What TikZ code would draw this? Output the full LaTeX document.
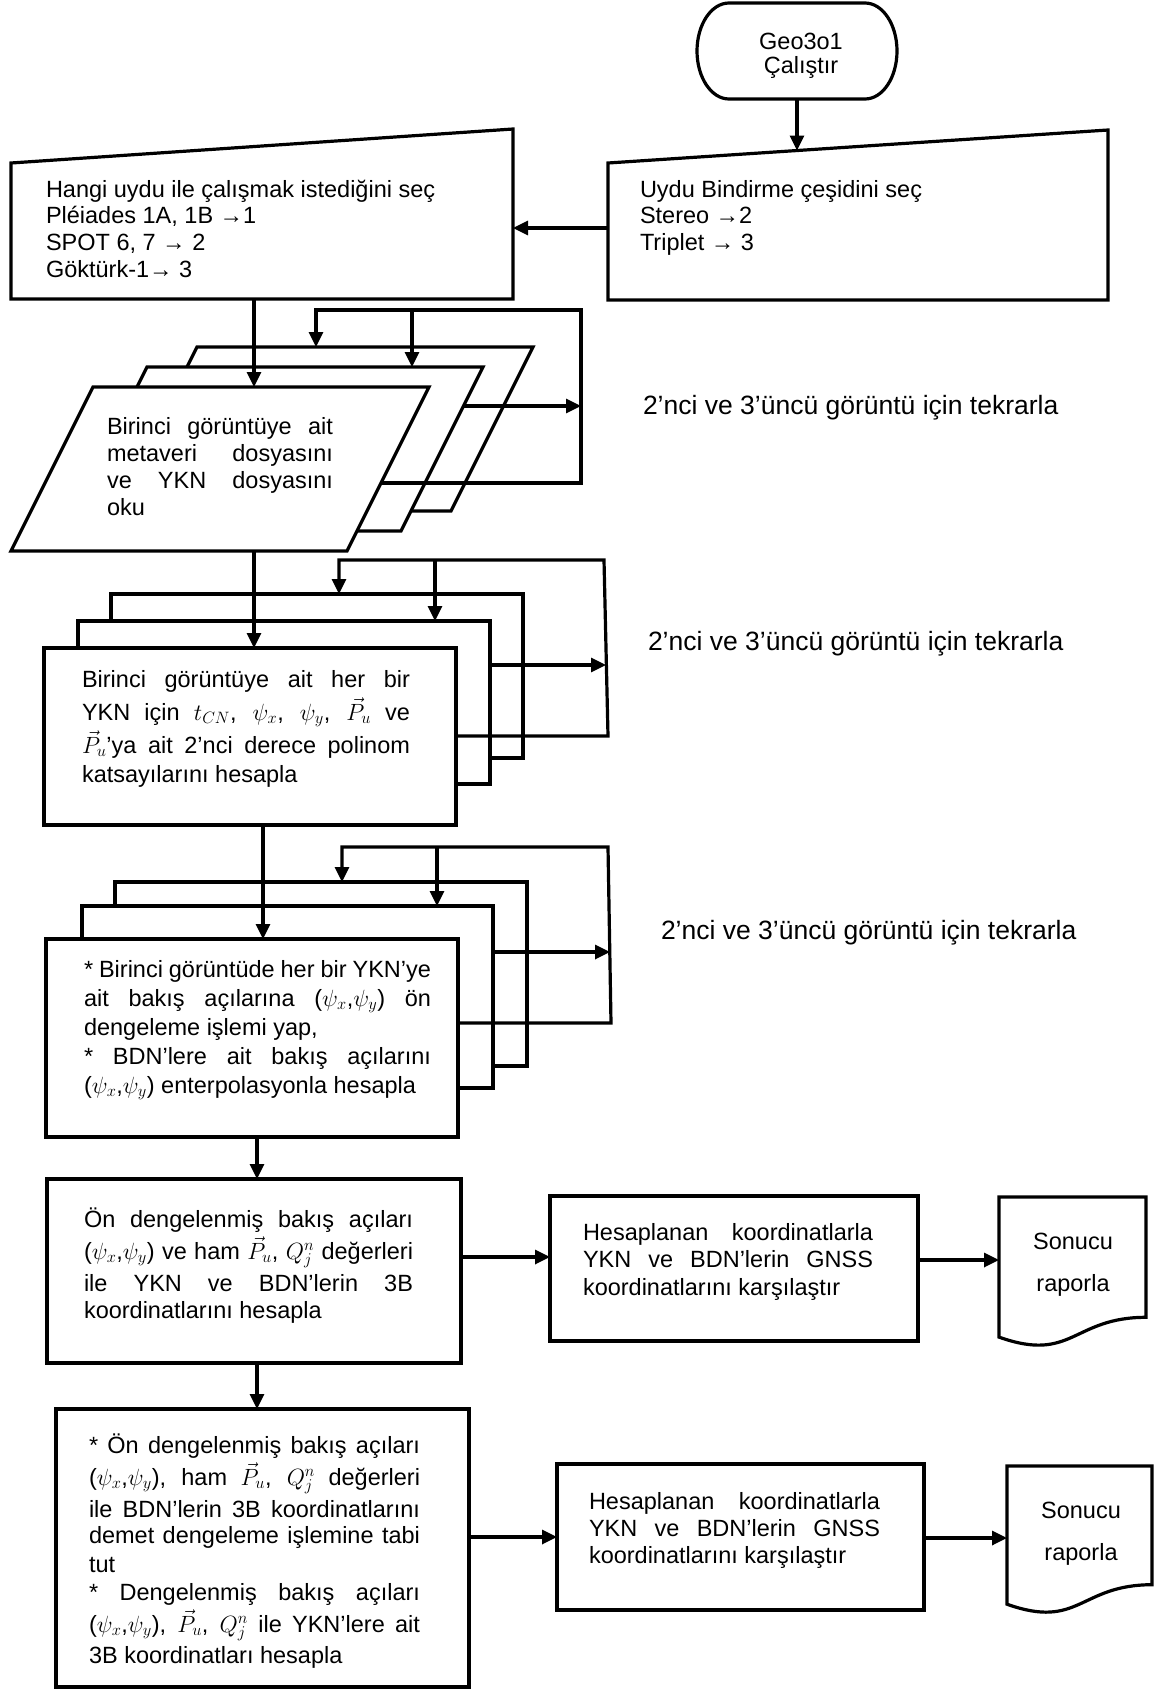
\documentclass[tikz,border=0pt]{standalone}
\usepackage{fix-cm}
\usepackage{fontspec}
\setmainfont{Liberation Sans}
\usetikzlibrary{arrows.meta}
\newlength\Wd
\newcommand\TB[3]{\parbox[t]{#1}{\setlength{\Wd}{#1}\fontsize{23.5pt}{#2}\selectfont\lineskiplimit=-100pt\relax #3}}
\newcommand\J[1]{\makebox[\Wd][s]{#1}}
\newcommand\lbl{\fontsize{26.5pt}{30pt}\selectfont}
\tikzset{
  shp/.style={draw, line width=3.2pt, fill=white, line join=miter},
  arr/.style={line width=3.2pt, -{Triangle[length=15pt,width=14pt]}},
  txt/.style={anchor=base west, inner sep=0pt, outer sep=0pt},
  ctxt/.style={anchor=base, inner sep=0pt, outer sep=0pt},
  box/.style={shp, rectangle, inner sep=0pt, outer sep=0pt, anchor=north west},
}
\begin{document}
\begin{tikzpicture}[x=1pt,y=-1pt]
\fill[white] (0,0) rectangle (1159,1690);
\useasboundingbox (0,0) rectangle (1159,1690);

% ---------- terminal ----------
\draw[shp] (729,3) -- (865,3) arc[start angle=-90,end angle=90,x radius=32,y radius=48]
  -- (729,99) arc[start angle=90,end angle=270,x radius=32,y radius=48] -- cycle;
\node[inner sep=0pt, outer sep=0pt, minimum width=200pt, minimum height=96pt] (term) at (797,51) {};
\node[ctxt] (termt) at (801,49) {\parbox[t]{150pt}{\centering\fontsize{23.5pt}{24pt}\selectfont Geo3o1\\Çalıştır}};

% ---------- manual inputs ----------
\draw[shp] (11,163) -- (513,129) -- (513,299) -- (11,299) -- cycle;
\draw[shp] (608,163) -- (1108,130) -- (1108,300) -- (608,300) -- cycle;
\node[txt] (tL) at (46,197) {\TB{450pt}{26.7pt}{Hangi uydu ile çalışmak istediğini seç\\Pléiades 1A, 1B →1\\SPOT 6, 7 → 2\\Göktürk-1→ 3}};
\node[txt] (tR) at (640,197) {\TB{440pt}{26.7pt}{Uydu Bindirme çeşidini seç\\Stereo →2\\Triplet → 3}};

\coordinate (inRtop) at (797,150.5);
\coordinate (inRw) at (608,228);
\coordinate (inLe) at (513,228);
\coordinate (inLs) at (254,299);
\draw[arr] (term.south) -- (inRtop);
\draw[arr] (inRw) -- (inLe);

% ---------- parallelogram stack ----------
\draw[shp] (197,347) -- (533,347) -- (451,511) -- (115,511) -- cycle;
\draw[shp] (147,367) -- (483,367) -- (401,531) -- (65,531) -- cycle;
\draw[shp] (93,387) -- (429,387) -- (347,551) -- (11,551) -- cycle;
\node[txt] (tP) at (107,434) {\TB{226pt}{27.3pt}{\J{Birinci görüntüye ait}\\\J{metaveri dosyasını}\\\J{ve YKN dosyasını}\\oku}};

\coordinate (p1n) at (254,387);
\coordinate (p1s) at (254,551);
\coordinate (p1e) at (381,483);
\coordinate (p2n) at (412,367);
\coordinate (p2e) at (463,406);
\coordinate (p3n) at (316,347);
\coordinate (lp1a) at (581,483);
\coordinate (lp1b) at (581,310);
\coordinate (lp1c) at (316,310);
\coordinate (lp1d) at (412,310);
\coordinate (lp1e) at (581,406);
\draw[arr] (inLs) -- (p1n);
\draw[arr] (p1e) -- (lp1a) -- (lp1b) -- (lp1c) -- (p3n);
\draw[arr] (lp1d) -- (p2n);
\draw[arr] (p2e) -- (lp1e);
\node[txt] (lab1) at (643,414) {\lbl 2’nci ve 3’üncü görüntü için tekrarla};

% ---------- rectangle stack 2 ----------
\node[box, minimum width=412pt, minimum height=164pt] (r3) at (111,594) {};
\node[box, minimum width=412pt, minimum height=163pt] (r2) at (78,621) {};
\node[box, minimum width=412pt, minimum height=177pt] (r1) at (44,648) {};
\node[txt] (tr1) at (82,687) {\TB{328pt}{29pt}{\J{Birinci görüntüye ait her bir}\\[4pt]\J{YKN için $t_{CN}$, $\psi_x$, $\psi_y$, $\vec{P}_u$ ve}\\[4pt]\J{$\vec{P}_u$’ya ait 2’nci derece polinom}\\katsayılarını hesapla}};

\coordinate (r1n) at (254,648);
\coordinate (r1e) at (456,736);
\coordinate (r2n) at (435,621);
\coordinate (r2e) at (490,665);
\coordinate (r3n) at (339,594);
\coordinate (lp2a) at (608,736);
\coordinate (lp2b) at (604,560);
\coordinate (lp2c) at (339,560);
\coordinate (lp2d) at (435,560);
\coordinate (lp2e) at (606,665);
\draw[arr] (p1s) -- (r1n);
\draw[arr] (r1e) -- (lp2a) -- (lp2b) -- (lp2c) -- (r3n);
\draw[arr] (lp2d) -- (r2n);
\draw[arr] (r2e) -- (lp2e);
\node[txt] (lab2) at (648,650) {\lbl 2’nci ve 3’üncü görüntü için tekrarla};

% ---------- rectangle stack 3 ----------
\node[box, minimum width=412pt, minimum height=184pt] (s3) at (115,882) {};
\node[box, minimum width=411pt, minimum height=182pt] (s2) at (82,906) {};
\node[box, minimum width=412pt, minimum height=198pt] (s1) at (46,939) {};
\node[txt] (ts1) at (84,977) {\TB{347pt}{29pt}{\J{* Birinci görüntüde her bir YKN’ye}\\\J{ait bakış açılarına ($\psi_x$,$\psi_y$) ön}\\dengeleme işlemi yap,\\\J{* BDN’lere ait bakış açılarını}\\($\psi_x$,$\psi_y$) enterpolasyonla hesapla}};

\coordinate (r1s) at (263,825);
\coordinate (s1n) at (263,939);
\coordinate (s1e) at (458,1023);
\coordinate (s2n) at (437,906);
\coordinate (s2e) at (493,952);
\coordinate (s3n) at (342,882);
\coordinate (lp3a) at (611,1023);
\coordinate (lp3b) at (608,847);
\coordinate (lp3c) at (342,847);
\coordinate (lp3d) at (437,847);
\coordinate (lp3e) at (610,952);
\draw[arr] (r1s) -- (s1n);
\draw[arr] (s1e) -- (lp3a) -- (lp3b) -- (lp3c) -- (s3n);
\draw[arr] (lp3d) -- (s2n);
\draw[arr] (s2e) -- (lp3e);
\node[txt] (lab3) at (661,939) {\lbl 2’nci ve 3’üncü görüntü için tekrarla};

% ---------- box 4 row ----------
\node[box, minimum width=414pt, minimum height=184pt] (b4) at (47,1179) {};
\node[txt] (tb4) at (84,1227) {\TB{329pt}{27pt}{\J{Ön dengelenmiş bakış açıları}\\[5pt]\J{($\psi_x$,$\psi_y$) ve ham $\vec{P}_u$, $Q_j^n$ değerleri}\\[5pt]\J{ile YKN ve BDN’lerin 3B}\\koordinatlarını hesapla}};
\node[box, minimum width=368pt, minimum height=145pt] (h1) at (550,1196) {};
\node[txt] (th1) at (583,1240) {\TB{290pt}{27.5pt}{\J{Hesaplanan koordinatlarla}\\\J{YKN ve BDN’lerin GNSS}\\koordinatlarını karşılaştır}};
\draw[shp] (999,1197) -- (1146,1197) -- (1146,1317.3)
  .. controls (1072.5,1317.3) and (1072.5,1363.2) .. (999,1337.1) -- cycle;
\node[ctxt] (d1) at (1073,1249) {\parbox[t]{130pt}{\centering\fontsize{23.5pt}{42pt}\selectfont Sonucu\\raporla}};

\coordinate (s1s) at (257,1137);
\coordinate (b4n) at (257,1179);
\coordinate (b4e) at (461,1257);
\coordinate (h1w) at (550,1257);
\coordinate (h1e) at (918,1260);
\coordinate (d1w) at (999,1260);
\draw[arr] (s1s) -- (b4n);
\draw[arr] (b4e) -- (h1w);
\draw[arr] (h1e) -- (d1w);

% ---------- box 5 row ----------
\node[box, minimum width=413pt, minimum height=278pt] (b5) at (56,1409) {};
\node[txt] (tb5) at (89,1453) {\TB{331pt}{29pt}{\J{* Ön dengelenmiş bakış açıları}\\[3pt]\J{($\psi_x$,$\psi_y$), ham $\vec{P}_u$, $Q_j^n$ değerleri}\\[3pt]\J{ile BDN’lerin 3B koordinatlarını}\\[-3pt]\J{demet dengeleme işlemine tabi}\\tut\\[-1pt]\J{* Dengelenmiş bakış açıları}\\[3pt]\J{($\psi_x$,$\psi_y$), $\vec{P}_u$, $Q_j^n$ ile YKN’lere ait}\\[2pt]3B koordinatları hesapla}};
\node[box, minimum width=367pt, minimum height=146pt] (h2) at (557,1464) {};
\node[txt] (th2) at (589,1509) {\TB{291pt}{27pt}{\J{Hesaplanan koordinatlarla}\\\J{YKN ve BDN’lerin GNSS}\\koordinatlarını karşılaştır}};
\draw[shp] (1007,1466) -- (1152,1466) -- (1152,1584.7)
  .. controls (1079.5,1584.7) and (1079.5,1630) .. (1007,1604.2) -- cycle;
\node[ctxt] (d2) at (1081,1518) {\parbox[t]{130pt}{\centering\fontsize{23.5pt}{42pt}\selectfont Sonucu\\raporla}};

\coordinate (b4s) at (257,1363);
\coordinate (b5n) at (257,1409);
\coordinate (b5e) at (469,1537);
\coordinate (h2w) at (557,1537);
\coordinate (h2e) at (924,1538);
\coordinate (d2w) at (1007,1538);
\draw[arr] (b4s) -- (b5n);
\draw[arr] (b5e) -- (h2w);
\draw[arr] (h2e) -- (d2w);
\end{tikzpicture}
\end{document}
